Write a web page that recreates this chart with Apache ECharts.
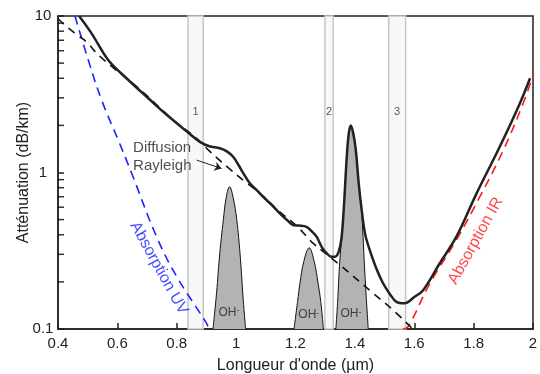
<!DOCTYPE html>
<html>
<head>
<meta charset="utf-8">
<script src="https://cdn.jsdelivr.net/npm/echarts@6/dist/echarts.min.js"></script>
<style>
  html, body { margin: 0; padding: 0; background: #fff; }
  #chart { width: 540px; height: 374px; }
</style>
</head>
<body>
<div id="chart"></div>
<script>
// wavelength (µm), attenuation (dB/km)
const totalLoss = [
  [0.471, 10], [0.513, 7.75], [0.569, 5.24], [0.637, 3.9], [0.704, 2.98], [0.76, 2.39],
  [0.828, 1.87], [0.878, 1.57], [0.91, 1.47], [0.945, 1.43], [0.97, 1.36], [0.99, 1.26],
  [1.01, 1.1], [1.024, 0.99], [1.046, 0.853], [1.07, 0.77], [1.091, 0.7], [1.12, 0.62],
  [1.147, 0.548], [1.175, 0.49], [1.192, 0.462], [1.21, 0.458], [1.237, 0.45], [1.255, 0.42],
  [1.271, 0.389], [1.29, 0.33], [1.305, 0.305], [1.32, 0.29], [1.333, 0.29], [1.345, 0.31],
  [1.355, 0.38], [1.364, 0.65], [1.372, 1.2], [1.379, 1.75], [1.386, 2.0], [1.394, 1.8],
  [1.403, 1.4], [1.413, 0.85], [1.423, 0.575], [1.435, 0.4], [1.45, 0.32], [1.47, 0.25],
  [1.495, 0.196], [1.52, 0.165], [1.54, 0.149], [1.568, 0.146], [1.6, 0.16], [1.63, 0.177],
  [1.686, 0.263], [1.742, 0.389], [1.81, 0.736], [1.888, 1.46], [1.956, 2.77], [1.99, 4.0]
]
const rayleigh = [
  [0.4, 9.6], [0.434, 8.4], [0.47, 7.45], [0.501, 6.7], [0.525, 5.92], [0.575, 4.86],
  [0.659, 3.62], [0.727, 2.77], [0.794, 2.11], [0.861, 1.69], [0.914, 1.35], [0.977, 1.06],
  [1.03, 0.873], [1.08, 0.736], [1.147, 0.56], [1.198, 0.467], [1.238, 0.39], [1.26, 0.352],
  [1.349, 0.257], [1.462, 0.169], [1.529, 0.132], [1.595, 0.1]
]
const uvAbsorption = [
  [0.457, 10], [0.502, 5.23], [0.547, 2.9], [0.603, 1.61], [0.648, 0.99], [0.732, 0.389],
  [0.8, 0.216], [0.9, 0.109], [0.908, 0.1]
]
const irAbsorption = [
  [1.562, 0.1], [1.58, 0.104], [1.653, 0.196], [1.742, 0.371], [1.821, 0.7], [1.9, 1.39],
  [1.967, 2.77], [2.0, 4.2]
]
const ohPeak1 = [
  [0.922, 0.1], [0.934, 0.169], [0.945, 0.305], [0.957, 0.5], [0.967, 0.7], [0.978, 0.81],
  [0.99, 0.69], [1.002, 0.5], [1.013, 0.305], [1.024, 0.153], [1.032, 0.1]
]
const ohPeak2 = [
  [1.195, 0.1], [1.207, 0.15], [1.215, 0.196], [1.228, 0.27], [1.246, 0.33], [1.263, 0.27],
  [1.276, 0.196], [1.285, 0.15], [1.294, 0.1]
]
const ohPeak3 = [
  [1.336, 0.1], [1.342, 0.15], [1.348, 0.25], [1.356, 0.4], [1.364, 0.65], [1.372, 1.2],
  [1.379, 1.75], [1.386, 2.0], [1.394, 1.8], [1.403, 1.4], [1.413, 0.85], [1.423, 0.55],
  [1.434, 0.22], [1.445, 0.1]
]
const windows = [[0.838, 0.889], [1.299, 1.327], [1.514, 1.571]]
const windowNames = ['1', '2', '3']
const windowLabelY = 2.45
const ohLabels = [[0.976, 0.128], [1.245, 0.123], [1.387, 0.125]]
const minorTicks = [0.2, 0.3, 0.4, 0.5, 0.6, 0.7, 0.8, 0.9, 2, 3, 4, 5, 6, 7, 8, 9]
const rayleighText = [0.653, 1.256]
const rayleighArrow = [[0.867, 1.2], [0.951, 1.06]]
const uvText = [0.74, 0.245]
const irText = [1.807, 0.366]

const font = 'Liberation Sans, Arial, sans-serif'
const chart = echarts.init(document.getElementById('chart'))

const peak = (data) => ({
  type: 'line',
  data,
  smooth: 0.4,
  symbol: 'none',
  z: 2,
  lineStyle: { color: '#111', width: 1 },
  areaStyle: { color: '#b3b3b3', opacity: 1, origin: 'start' },
  silent: true,
})

const dashed = (data, color) => ({
  type: 'line',
  data,
  smooth: 0.4,
  symbol: 'none',
  z: 3,
  lineStyle: { color, width: 1.6, type: [9, 6] },
  silent: true,
})

chart.setOption({
  animation: false,
  textStyle: { fontFamily: font },
  grid: {
    left: 58, right: 7, top: 16, bottom: 45, outerBoundsMode: 'none',
    show: true, borderColor: '#222', borderWidth: 1.5,
  },
  xAxis: {
    type: 'value', min: 0.4, max: 2, interval: 0.2,
    name: "Longueur d'onde (µm)", nameLocation: 'middle', nameGap: 29, nameMoveOverlap: false,
    nameTextStyle: { fontSize: 16, color: '#222', fontFamily: font },
    axisLine: { lineStyle: { color: '#222', width: 1.5 } },
    axisTick: { inside: true, length: 6, lineStyle: { color: '#222', width: 1.5 } },
    axisLabel: { fontSize: 15, color: '#222', margin: 7, fontFamily: font },
    splitLine: { show: false },
  },
  yAxis: {
    type: 'log', logBase: 10, min: 0.1, max: 10,
    name: 'Atténuation (dB/km)', nameLocation: 'middle', nameGap: 26, nameMoveOverlap: false,
    nameTextStyle: { fontSize: 16, color: '#222', fontFamily: font },
    axisLine: { lineStyle: { color: '#222', width: 1.5 } },
    axisTick: { inside: true, length: 6, lineStyle: { color: '#222', width: 1.5 } },
    axisLabel: { fontSize: 15, color: '#222', margin: 15, align: 'center', fontFamily: font },
    splitLine: { show: false },
  },
  series: [
    {
      type: 'scatter',
      data: windows.map((w, i) => ({ value: [(w[0] + w[1]) / 2, windowLabelY], name: windowNames[i] })),
      symbolSize: 0,
      z: 1,
      silent: true,
      label: { show: true, position: 'inside', formatter: '{b}', fontSize: 11, color: '#333' },
      markArea: {
        silent: true,
        itemStyle: { color: '#f8f8f8', borderColor: '#c6c6c6', borderWidth: 1.5 },
        data: windows.map((w) => [{ xAxis: w[0] }, { xAxis: w[1] }]),
      },
    },
    {
      // minor log ticks on the left axis, pointing inward
      type: 'scatter',
      clip: false,
      data: minorTicks.map((v) => [0.4, v]),
      symbol: 'rect',
      symbolSize: [6, 1.5],
      symbolOffset: [3, 0],
      itemStyle: { color: '#000' },
    },
    peak(ohPeak1),
    peak(ohPeak2),
    peak(ohPeak3),
    dashed(uvAbsorption, '#1a22ff'),
    dashed(irAbsorption, '#ff1a1a'),
    {
      type: 'line',
      data: rayleigh,
      smooth: 0.4,
      symbol: 'none',
      z: 3,
      lineStyle: { color: '#111', width: 1.6, type: [8, 6] },
      silent: true,
    },
    {
      type: 'line',
      data: totalLoss,
      smooth: 0.35,
      symbol: 'none',
      z: 4,
      lineStyle: { color: '#222', width: 2.5 },
      silent: true,
    },
    {
      type: 'scatter',
      symbolSize: 0,
      z: 5,
      silent: true,
      data: [
        { value: rayleighText, label: { position: 'right', distance: 0, formatter: 'Diffusion\nRayleigh', fontSize: 15, lineHeight: 18, color: '#222' } },
        { value: uvText, label: { position: 'inside', formatter: 'Absorption UV', rotate: -61, fontSize: 16, color: '#1a22ff' } },
        { value: irText, label: { position: 'inside', formatter: 'Absorption IR', rotate: 61, fontSize: 16, color: '#ff1a1a' } },
      ].concat(ohLabels.map((p) => ({
        value: p,
        label: {
          position: 'inside',
          formatter: '{a|OH}{s|-}',
          rich: {
            a: { fontSize: 12, color: '#222', fontFamily: font },
            s: { fontSize: 9, color: '#222', verticalAlign: 'top', fontFamily: font },
          },
        },
      }))),
      label: { show: true, fontFamily: font },
      markLine: {
        silent: true,
        symbol: ['none', 'arrow'],
        symbolSize: 7,
        lineStyle: { color: '#222', width: 1, type: 'solid' },
        label: { show: false },
        data: [[{ coord: rayleighArrow[0] }, { coord: rayleighArrow[1] }]],
      },
    },
  ],
})
</script>
</body>
</html>
